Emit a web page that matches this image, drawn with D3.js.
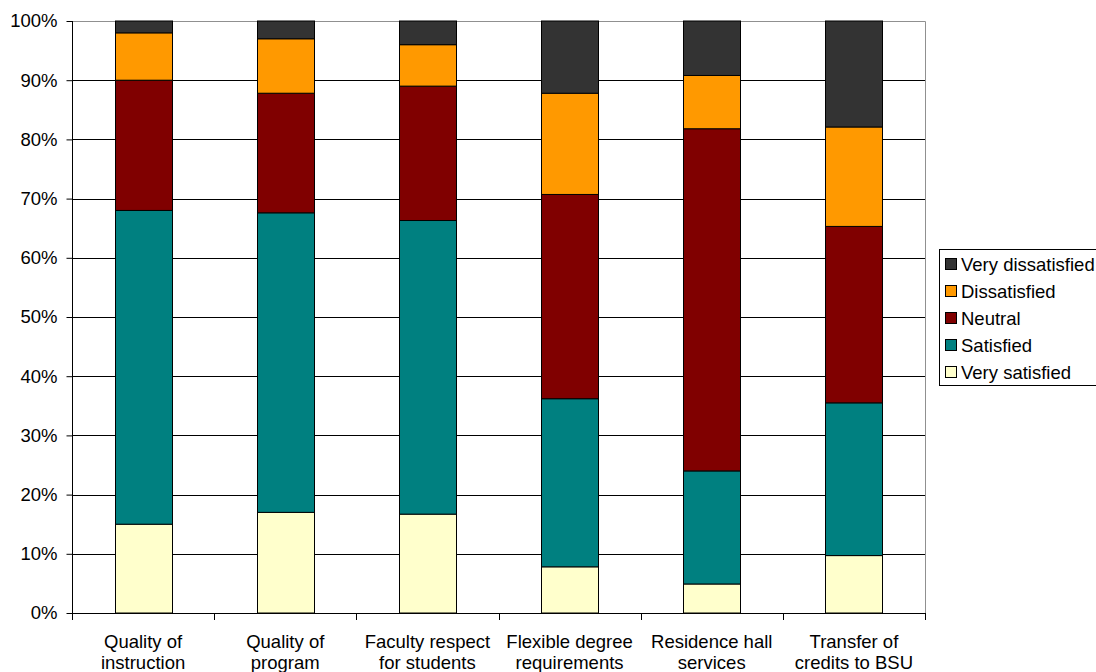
<!DOCTYPE html>
<html>
<head>
<meta charset="utf-8">
<script src="https://cdn.jsdelivr.net/npm/d3@7"></script>
<style>
  html, body { margin: 0; padding: 0; background: #fff; }
  svg { display: block; font-family: "Liberation Sans", Arial, sans-serif; }
</style>
</head>
<body>
<svg id="chart" width="1096" height="672"></svg>
<script>
// Survey items (two-line labels)
const categories = [
  ["Quality of", "instruction"],
  ["Quality of", "program"],
  ["Faculty respect", "for students"],
  ["Flexible degree", "requirements"],
  ["Residence hall", "services"],
  ["Transfer of", "credits to BSU"]
];

// Response shares (%) per item, bottom to top of each stack
const verySatisfied    = [15.0, 17.0, 16.7,  7.8,  4.9,  9.7];
const satisfied        = [53.0, 50.6, 49.6, 28.4, 19.1, 25.8];
const neutral          = [22.0, 20.2, 22.7, 34.5, 57.8, 29.8];
const dissatisfied     = [ 8.0,  9.2,  7.0, 17.1,  9.0, 16.8];
const veryDissatisfied = [ 2.0,  3.0,  4.0, 12.2,  9.2, 17.9];

const seriesNames = ["Very satisfied", "Satisfied", "Neutral", "Dissatisfied", "Very dissatisfied"];
const seriesColors = ["#FFFFCC", "#008080", "#800000", "#FF9900", "#333333"];
const yTicks = [0, 10, 20, 30, 40, 50, 60, 70, 80, 90, 100];

const seriesValues = [verySatisfied, satisfied, neutral, dissatisfied, veryDissatisfied];
const FONT = 18.5;

const rows = categories.map((c, i) => {
  const r = { key: i };
  seriesNames.forEach((s, j) => { r[s] = seriesValues[j][i]; });
  return r;
});

const svg = d3.select("#chart");
const plot = { left: 72, right: 925, top: 21, bottom: 613 };

const x = d3.scaleBand()
  .domain(d3.range(categories.length))
  .range([plot.left, plot.right])
  .paddingInner(0.6)
  .paddingOuter(0.3);

const y = d3.scaleLinear().domain([0, 100]).range([plot.bottom, plot.top]);

const stack = d3.stack().keys(seriesNames)(rows);

// gridlines
svg.append("g")
  .selectAll("line")
  .data(yTicks.filter(t => t > 0 && t < 100))
  .join("line")
  .attr("x1", plot.left).attr("x2", plot.right)
  .attr("y1", d => Math.round(y(d)) + 0.5).attr("y2", d => Math.round(y(d)) + 0.5)
  .attr("stroke", "#000").attr("stroke-width", 1);

// plot area frame (top and right)
svg.append("path")
  .attr("d", `M${plot.left},${plot.top + 0.5}H${plot.right + 0.5}V${plot.bottom}`)
  .attr("fill", "none").attr("stroke", "#909090").attr("stroke-width", 1);

// stacked bars
svg.append("g")
  .selectAll("g")
  .data(stack)
  .join("g")
  .attr("fill", (d, i) => seriesColors[i])
  .selectAll("rect")
  .data(d => d)
  .join("rect")
  .attr("x", d => Math.round(x(d.data.key)) + 0.5)
  .attr("width", Math.round(x.bandwidth()))
  .attr("y", d => y(d[1]))
  .attr("height", d => y(d[0]) - y(d[1]))
  .attr("stroke", "#000").attr("stroke-width", 1);

// y axis
const yAxis = d3.axisLeft(y).tickValues(yTicks).tickFormat(d => d + "%").tickSize(6).tickPadding(9);
const gy = svg.append("g").attr("transform", `translate(${plot.left + 0.5},0)`).call(yAxis);
gy.select(".domain").attr("stroke", "#000").attr("d", `M0,${plot.top}V${plot.bottom}`);
gy.selectAll(".tick line").attr("stroke", "#000");
gy.selectAll("text").attr("font-size", FONT).attr("fill", "#000")
  .attr("font-family", "Liberation Sans, Arial, sans-serif");

// x axis: ticks on category boundaries
const bounds = d3.range(categories.length + 1).map(i => plot.left + i * (plot.right - plot.left) / categories.length);
const gx = svg.append("g");
gx.append("line")
  .attr("x1", plot.left).attr("x2", plot.right + 1)
  .attr("y1", plot.bottom + 0.5).attr("y2", plot.bottom + 0.5)
  .attr("stroke", "#000");
gx.selectAll("line.tk")
  .data(bounds)
  .join("line").attr("class", "tk")
  .attr("x1", d => Math.round(d) + 0.5).attr("x2", d => Math.round(d) + 0.5)
  .attr("y1", plot.bottom).attr("y2", plot.bottom + 7)
  .attr("stroke", "#000");
const labels = gx.selectAll("text.cat")
  .data(categories)
  .join("text").attr("class", "cat")
  .attr("text-anchor", "middle")
  .attr("font-size", FONT)
  .attr("fill", "#000");
labels.each(function(d, i) {
  const t = d3.select(this);
  const cx = x(i) + x.bandwidth() / 2;
  d.forEach((line, k) => {
    t.append("tspan").attr("x", cx).attr("y", 648 + k * 21).text(line);
  });
});

// legend
const legend = svg.append("g");
legend.append("rect")
  .attr("x", 939.5).attr("y", 249.5)
  .attr("width", 170).attr("height", 136)
  .attr("fill", "#fff").attr("stroke", "#000");
const legendOrder = [4, 3, 2, 1, 0];
const li = legend.selectAll("g.item")
  .data(legendOrder)
  .join("g").attr("class", "item")
  .attr("transform", (d, k) => `translate(945, ${264 + k * 27})`);
li.append("rect")
  .attr("x", 0.5).attr("y", -5.5)
  .attr("width", 11).attr("height", 11)
  .attr("fill", d => seriesColors[d]).attr("stroke", "#000");
li.append("text")
  .attr("x", 16).attr("y", 7)
  .attr("font-size", FONT).attr("fill", "#000")
  .text(d => seriesNames[d]);
</script>
</body>
</html>
